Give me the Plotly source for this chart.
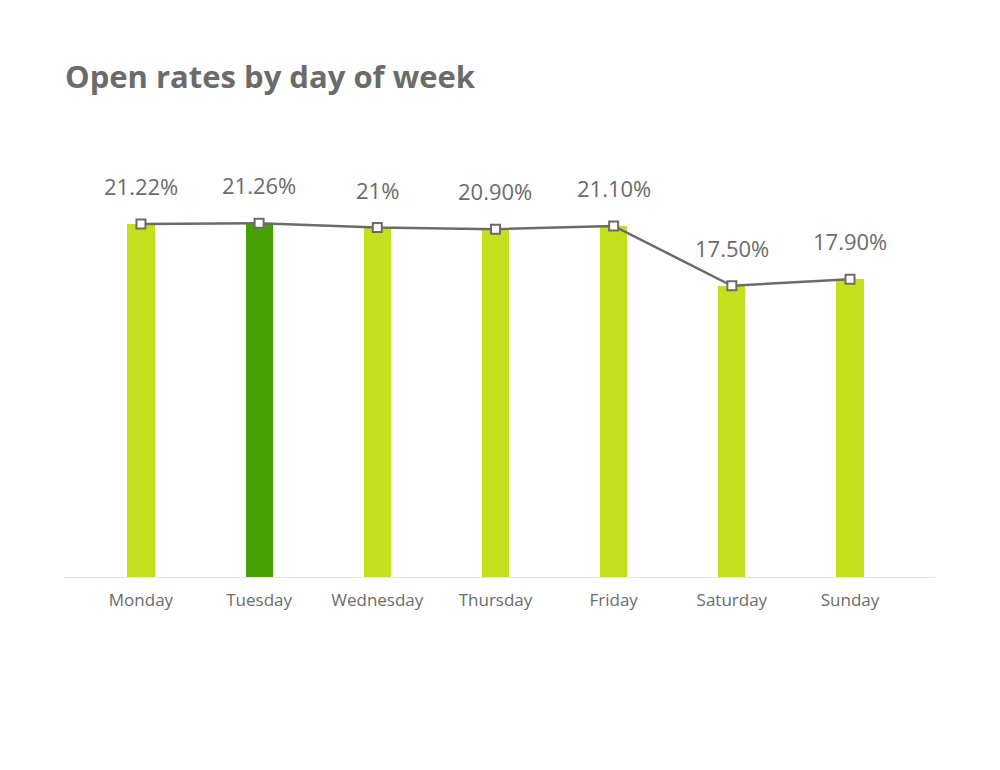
import plotly.graph_objects as go

days = ["Monday", "Tuesday", "Wednesday", "Thursday", "Friday", "Saturday", "Sunday"]
open_rates = [21.22, 21.26, 21.0, 20.90, 21.10, 17.50, 17.90]
rate_labels = ["21.22%", "21.26%", "21%", "20.90%", "21.10%", "17.50%", "17.90%"]
highlight_day = "Tuesday"

LIME = "#C4DF1E"
GREEN = "#48A102"
GRAY = "#6b6b6b"
FONT = "'Open Sans', Lato, sans-serif"

bar_colors = [GREEN if d == highlight_day else LIME for d in days]

fig = go.Figure()
fig.add_trace(go.Bar(
    x=days, y=open_rates, marker=dict(color=bar_colors, line=dict(width=0)),
    width=0.23, hoverinfo="skip", showlegend=False,
))
fig.add_trace(go.Scatter(
    x=days, y=open_rates, mode="lines+markers",
    line=dict(color=GRAY, width=2.5),
    marker=dict(symbol="square", size=9, color="white", line=dict(color=GRAY, width=2)),
    showlegend=False,
))
for d, v, t in zip(days, open_rates, rate_labels):
    fig.add_annotation(x=d, y=v, text=t, showarrow=False, yshift=38,
                       font=dict(family=FONT, size=22, color=GRAY))

fig.update_layout(
    width=1000, height=770,
    paper_bgcolor="white", plot_bgcolor="white",
    margin=dict(l=56, r=73, t=92, b=201),
    title=dict(text="<b>Open rates by day of week</b>", x=57/1000, xanchor="left",
               y=1 - 69/770, yanchor="middle",
               font=dict(family=FONT, size=31, color=GRAY)),
    bargap=0,
    xaxis=dict(range=[-0.651, 6.719], showgrid=False, showline=True, linecolor="#e6e6e6",
               linewidth=1, ticks="", tickfont=dict(family=FONT, size=17, color=GRAY),
               ticklabelstandoff=8, fixedrange=True),
    yaxis=dict(range=[0, 477 / 16.64], visible=False, showgrid=False, zeroline=False),
)

fig.write_html("out.html")
